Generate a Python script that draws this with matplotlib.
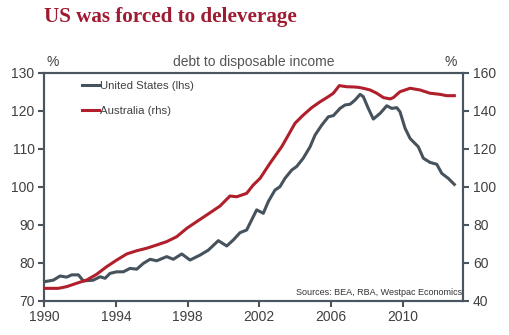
import numpy as np
import matplotlib
matplotlib.use("Agg")
import matplotlib.pyplot as plt

# debt to disposable income
us_year = [1990.00, 1990.50, 1990.88, 1991.25, 1991.53, 1991.90, 1992.18, 1992.73,
           1993.11, 1993.39, 1993.67, 1994.04, 1994.41, 1994.78, 1995.16, 1995.52,
           1995.90, 1996.27, 1996.83, 1997.20, 1997.67, 1998.13, 1998.69, 1999.15,
           1999.71, 2000.18, 2000.55, 2000.92, 2001.29, 2001.48, 2001.85, 2002.22,
           2002.50, 2002.87, 2003.15, 2003.43, 2003.81, 2004.08, 2004.45, 2004.83,
           2005.11, 2005.48, 2005.85, 2006.13, 2006.50, 2006.78, 2007.06, 2007.34,
           2007.62, 2007.80, 2008.08, 2008.36, 2008.74, 2009.11, 2009.39, 2009.67,
           2009.85, 2010.13, 2010.41, 2010.87, 2011.15, 2011.52, 2011.90, 2012.18,
           2012.54, 2012.88]
us_val = [75.0, 75.4, 76.5, 76.2, 76.8, 76.8, 75.2, 75.4,
          76.3, 75.9, 77.2, 77.6, 77.6, 78.5, 78.3, 79.8,
          80.9, 80.5, 81.6, 80.9, 82.3, 80.7, 82.0, 83.3,
          85.8, 84.4, 86.0, 87.9, 88.6, 90.4, 93.9, 93.0,
          96.1, 99.1, 100.0, 102.2, 104.4, 105.3, 107.5, 110.5,
          113.6, 116.2, 118.4, 118.7, 120.6, 121.5, 121.7, 122.8,
          124.3, 123.7, 120.6, 117.8, 119.3, 121.3, 120.6, 120.8,
          119.7, 115.4, 112.7, 110.5, 107.5, 106.4, 105.9, 103.5,
          102.2, 100.6]

au_year = [1990.00, 1990.78, 1991.25, 1991.81, 1992.37, 1992.92, 1993.48, 1994.04,
           1994.60, 1995.16, 1995.71, 1996.27, 1996.83, 1997.39, 1997.95, 1998.50,
           1999.06, 1999.80, 2000.36, 2000.74, 2001.29, 2001.66, 2002.04, 2002.59,
           2003.25, 2003.62, 2003.99, 2004.45, 2004.92, 2005.39, 2005.85, 2006.13,
           2006.46, 2006.88, 2007.24, 2007.52, 2007.80, 2008.18, 2008.55, 2008.92,
           2009.30, 2009.48, 2009.85, 2010.41, 2010.97, 2011.52, 2012.08, 2012.46,
           2012.88]
au_val = [46.5, 46.5, 47.4, 49.2, 50.9, 53.9, 57.9, 61.4,
          64.6, 66.3, 67.6, 69.3, 71.1, 73.7, 78.1, 81.6,
          85.1, 89.8, 95.1, 94.7, 96.5, 100.9, 104.4, 112.3,
          121.1, 127.2, 133.4, 137.7, 141.6, 144.7, 147.4, 149.2,
          153.2, 152.6, 152.5, 152.3, 151.8, 150.9, 149.2, 146.9,
          146.2, 146.9, 150.0, 151.8, 150.9, 149.2, 148.6, 147.9,
          147.9]

x_ticks = [1990, 1994, 1998, 2002, 2006, 2010]
left_ticks = [70, 80, 90, 100, 110, 120, 130]
right_ticks = [40, 60, 80, 100, 120, 140, 160]

plt.rcParams['font.family'] = ['Liberation Sans', 'DejaVu Sans']

spine_c = "#4b555f"
text_c = "#404040"
us_c = "#46525c"
au_c = "#b01f2b"

fig = plt.figure(figsize=(5.1, 3.35), dpi=100)
ax = fig.add_axes([0.0869, 0.1024, 0.8215, 0.6806])
ax2 = ax.twinx()

l1, = ax.plot(us_year, us_val, color=us_c, lw=2.2, zorder=3)
l2, = ax2.plot(au_year, au_val, color=au_c, lw=2.2, zorder=3)

ax.set_xlim(1990, 2013.38)
ax.set_ylim(70, 130)
ax2.set_ylim(40, 160)
ax.set_xticks(x_ticks)
ax.set_yticks(left_ticks)
ax2.set_yticks(right_ticks)

for a in (ax, ax2):
    for s in a.spines.values():
        s.set_color(spine_c)
        s.set_linewidth(1.5)
    a.tick_params(colors=spine_c, labelcolor=text_c, labelsize=10,
                  width=1.5, length=4, direction='out')
ax.tick_params(axis='y', pad=3)
ax2.tick_params(axis='y', pad=3)
ax.tick_params(axis='x', pad=3)

fig.text(0.086, 0.948, "US was forced to deleverage", family="Liberation Serif",
         weight="bold", size=15.2, color="#9e1b32", va="center", ha="left")
ax.text(0.005, 1.015, "%", transform=ax.transAxes, ha="left", va="bottom",
        size=10, color=text_c)
ax.text(0.985, 1.015, "%", transform=ax.transAxes, ha="right", va="bottom",
        size=10, color=text_c)
ax.text(0.5, 1.015, "debt to disposable income", transform=ax.transAxes,
        ha="center", va="bottom", size=10, color="#555555")
ax2.text(0.998, 0.015, "Sources: BEA, RBA, Westpac Economics", transform=ax.transAxes,
         ha="right", va="bottom", size=6.5, color="#333333")

leg = ax2.legend([l1, l2], ["United States (lhs)", "Australia (rhs)"],
                 loc="upper left", bbox_to_anchor=(0.07, 1.0), frameon=False,
                 fontsize=8.2, handlelength=1.5, handletextpad=0.1,
                 labelspacing=1.35, borderaxespad=0.3)
for t in leg.get_texts():
    t.set_color(text_c)

fig.savefig("out.png", dpi=100)
